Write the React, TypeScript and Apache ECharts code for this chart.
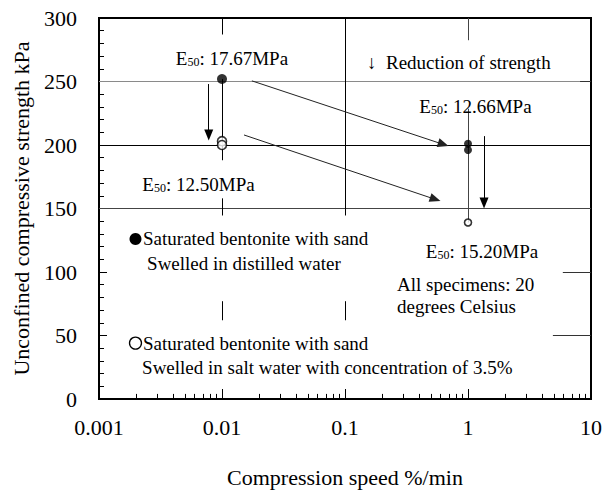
import React, { useEffect, useRef } from 'react';
import * as echarts from 'echarts';

const FONT = '"Liberation Serif", "Times New Roman", Times, serif';

// ---- data ----
const xTickLabels = ['0.001', '0.01', '0.1', '1', '10'];
const decades = [0.001, 0.01, 0.1, 1];
const minorMultipliers = [2, 3, 4, 5, 6, 7, 8, 9];
const distilledPoints: [number, number][] = [[0.01, 252], [1, 201], [1, 196]];
const saltPoints: [number, number][] = [[0.01, 203], [0.01, 200], [1, 139]];
const e50Values = ['17.67', '12.50', '12.66', '15.20'];
const legendDistilled = ['Saturated bentonite with sand', 'Swelled in distilled water'];
const legendSalt = ['Saturated bentonite with sand', 'Swelled in salt water with concentration of 3.5%'];
const noteLines = ['All specimens: 20', 'degrees Celsius'];
const reductionText = 'Reduction of strength';

// ---- annotation geometry (in data units) ----
const distilledSizes = [10, 8, 8];
const saltSizes = [9, 9, 7];
const e50Pos: [number, number][] = [[0.01205, 269], [0.00644, 170], [1.15, 231.5], [1.3, 117]];

const seg = (x1: number, y1: number, x2: number, y2: number, color = '#000', width = 1) => [
  { coord: [x1, y1], lineStyle: { color, width, type: 'solid' } },
  { coord: [x2, y2] },
];

const frameSegments = [
  seg(0.001, 250, 10, 250, '#8a8a8a'),
  seg(0.001, 200, 10, 200, '#000'),
  seg(0.001, 150, 10, 150, '#444'),
  seg(8.15, 250, 10, 250, '#333'),
  seg(5.9, 100, 10, 100, '#333'),
  seg(4.9, 50, 10, 50, '#333'),
  seg(0.01, 300, 0.01, 287),
  seg(0.01, 252, 0.01, 188),
  seg(0.01, 158, 0.01, 144.5),
  seg(0.01, 77, 0.01, 62),
  seg(0.1, 300, 0.1, 144.5),
  seg(0.1, 77, 0.1, 62),
  seg(1, 300, 1, 282.5, '#444'),
  seg(1, 228.5, 1, 139, '#444'),
  ...decades.flatMap((d) => minorMultipliers.map((k) => seg(k * d, 0, k * d, 4))),
];

const arrowSegments = [
  seg(0.0078, 248, 0.0078, 207.9, '#000'),
  seg(1.35, 207, 1.35, 154.3, '#000'),
  seg(0.0175, 250.5, 0.63, 200.5, '#222'),
  seg(0.0151, 207.9, 0.542, 157.2, '#222'),
];

const rich = {
  m: { fontFamily: FONT, fontSize: 19, color: '#000', lineHeight: 22, verticalAlign: 'bottom' },
  s: { fontFamily: FONT, fontSize: 12, color: '#000', lineHeight: 12, verticalAlign: 'bottom' },
};

const note = (text: string, x: number, y: number, align: 'left' | 'center', useRich = false) => ({
  coord: [x, y],
  symbol: 'circle',
  symbolSize: 0,
  itemStyle: { color: 'transparent' },
  label: {
    show: true,
    position: [0, 0],
    align,
    verticalAlign: 'middle',
    fontFamily: FONT,
    fontSize: 19,
    color: '#000',
    formatter: text,
    ...(useRich ? { rich } : {}),
  },
});

const bullet = (filled: boolean, x: number, y: number) => ({
  coord: [x, y],
  symbol: 'circle',
  symbolSize: 12,
  itemStyle: filled
    ? { color: '#000', borderWidth: 0 }
    : { color: '#fff', borderColor: '#000', borderWidth: 1.3 },
  label: { show: false },
});

const annotations = [
  ...e50Values.map((v, i) => note(`{m|E}{s|50}{m|: ${v}MPa}`, e50Pos[i][0], e50Pos[i][1], 'center', true)),
  note(`\u2193  ${reductionText}`, 0.151, 264.6, 'left'),
  note(noteLines[0], 0.265, 89.8, 'left'),
  note(noteLines[1], 0.265, 73.2, 'left'),
  bullet(true, 0.00198, 126),
  note(legendDistilled[0], 0.00228, 126, 'left'),
  note(legendDistilled[1], 0.00246, 107, 'left'),
  bullet(false, 0.00198, 44),
  note(legendSalt[0], 0.00228, 44, 'left'),
  note(legendSalt[1], 0.00224, 25, 'left'),
];

export default function App() {
  const ref = useRef<HTMLDivElement>(null);

  useEffect(() => {
    document.body.style.margin = '0';
    if (!ref.current) return;
    const chart = echarts.init(ref.current, null, { renderer: 'svg' });
    const textStyle = { color: '#000', fontFamily: FONT };

    chart.setOption({
      animation: false,
      backgroundColor: '#fff',
      grid: { left: 99, right: 15, top: 18, bottom: 102, show: true, borderColor: '#000', borderWidth: 2 },
      xAxis: {
        type: 'log',
        logBase: 10,
        min: 0.001,
        max: 10,
        axisLine: { lineStyle: { color: '#000', width: 2 } },
        axisTick: { inside: true, length: 10, lineStyle: { color: '#000', width: 1 } },
        splitLine: { show: false },
        axisLabel: {
          ...textStyle,
          fontSize: 22,
          margin: 17,
          formatter: (v: number) => xTickLabels[Math.round(Math.log10(v)) + 3] ?? '',
        },
        name: 'Compression speed %/min',
        nameLocation: 'middle',
        nameGap: 67,
        nameTextStyle: { ...textStyle, fontSize: 22 },
      },
      yAxis: {
        type: 'value',
        min: 0,
        max: 300,
        interval: 50,
        axisLine: { show: true, lineStyle: { color: '#000', width: 2 } },
        axisTick: { show: true, inside: true, length: 8, lineStyle: { color: '#000', width: 1 } },
        minorTick: { show: true, splitNumber: 5, length: 5, lineStyle: { color: '#000', width: 1 } },
        splitLine: { show: false },
        axisLabel: { ...textStyle, fontSize: 22, margin: 22 },
        name: 'Unconfined compressive strength kPa',
        nameLocation: 'middle',
        nameGap: 67,
        nameTextStyle: { ...textStyle, fontSize: 22 },
      },
      series: [
        {
          type: 'line',
          data: [],
          silent: true,
          markLine: { silent: true, symbol: ['none', 'none'], label: { show: false }, data: frameSegments },
        },
        {
          type: 'line',
          data: [],
          silent: true,
          markLine: {
            silent: true,
            symbol: ['none', 'triangle'],
            symbolSize: [9, 11],
            label: { show: false },
            data: arrowSegments,
          },
        },
        {
          type: 'line',
          data: [],
          silent: true,
          z: 10,
          markPoint: { silent: true, data: annotations },
        },
        {
          name: 'distilled',
          type: 'scatter',
          data: distilledPoints.map((p, i) => ({ value: p, symbolSize: distilledSizes[i] })),
          itemStyle: { color: '#000' },
          z: 5,
        },
        {
          name: 'salt',
          type: 'scatter',
          data: saltPoints.map((p, i) => ({ value: p, symbolSize: saltSizes[i] })),
          itemStyle: { color: '#fff', borderColor: '#000', borderWidth: 1.6 },
          z: 6,
        },
      ],
    });

    return () => chart.dispose();
  }, []);

  return <div ref={ref} style={{ width: 606, height: 501 }} />;
}
